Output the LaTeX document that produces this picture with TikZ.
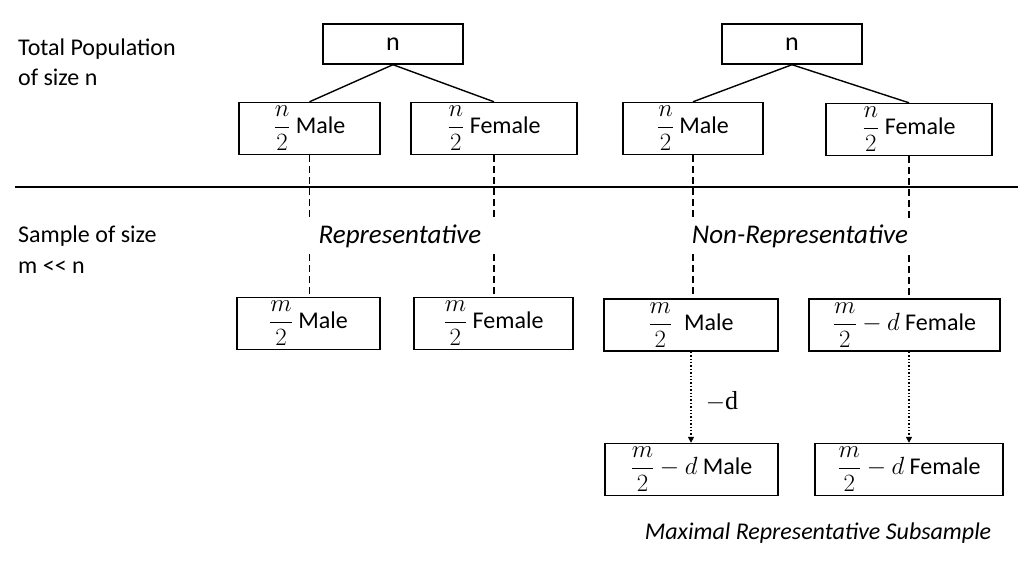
\documentclass[tikz,border=0pt]{standalone}
\usepackage{amsmath}
\usepackage{fontspec}
\setmainfont{Carlito}
\newfontfamily\serifd{Liberation Serif}
\usetikzlibrary{arrows.meta}

\begin{document}
\begin{tikzpicture}[x=1pt,y=-1pt]
      \tikzstyle{every node}+=[inner sep=0pt, font=\fontsize{24}{28}\selectfont]
      \tikzstyle{popbox}=[draw, line width=1.4pt, minimum height=52pt]
      \tikzstyle{sidetext}=[anchor=base west]
      \tikzstyle{tag}=[fill=white, font=\fontsize{27}{30}\selectfont\itshape, minimum height=30pt]
      \tikzstyle{link}=[line width=1.4pt]
      \tikzstyle{split}=[line width=1.4pt, dashed, dash pattern=on 7pt off 4pt]
      \tikzstyle{cut}=[line width=1.4pt, dotted, -{Triangle[length=6pt,width=6pt]}]
      \useasboundingbox (0,0) rectangle (1024,569);
      % side labels
      \node[sidetext] (pop1) at (18,56) {Total Population};
      \node[sidetext] (pop2) at (18,86) {of size n};
      \node[sidetext] (smp1) at (18,242) {Sample of size};
      \node[sidetext] (smp2) at (18,273) {m {<}{<} n};
      \draw [link] (15,187) -- (1018,187);
      % population, left
      \node[popbox, minimum width=140pt, minimum height=40pt, font=\fontsize{26}{30}\selectfont] (nL) at (393,44) {n};
      \node[popbox, minimum width=141pt] (pmL) at (309.5,128.5) {$\dfrac{n}{2}$ Male};
      \node[popbox, minimum width=166pt] (pfL) at (494,128.5) {$\dfrac{n}{2}$ Female};
      \draw [link] (nL.south) -- (pmL.north);
      \draw [link] (nL.south) -- (pfL.north);
      % population, right
      \node[popbox, minimum width=140pt, minimum height=40pt, font=\fontsize{26}{30}\selectfont] (nR) at (792,44) {n};
      \node[popbox, minimum width=140pt] (pmR) at (693,128.5) {$\dfrac{n}{2}$ Male};
      \node[popbox, minimum width=166pt] (pfR) at (909,129.5) {$\dfrac{n}{2}$ Female};
      \draw [link] (nR.south) -- (pmR.north);
      \draw [link] (nR.south) -- (pfR.north);
      % samples
      \node[popbox, minimum width=143pt] (smL) at (308.5,323.5) {$\dfrac{m}{2}$ Male};
      \node[popbox, minimum width=159pt] (sfL) at (493.5,323.5) {$\dfrac{m}{2}$ Female};
      \node[popbox, minimum width=174pt] (smR) at (691,325) {$\dfrac{m}{2}$\enspace Male};
      \node[popbox, minimum width=191pt] (sfR) at (904.5,325) {$\dfrac{m}{2} - d$ Female};
      \draw [split] (pmL.south) -- (pmL.south |- smL.north);
      \draw [split] (pfL.south) -- (pfL.south |- sfL.north);
      \draw [split] (pmR.south) -- (pmR.south |- smR.north);
      \draw [split] (pfR.south) -- (pfR.south |- sfR.north);
      \node[tag, minimum width=200pt] (rep) at (400,236) {Representative};
      \node[tag, minimum width=232pt] (nonrep) at (800,236) {Non-Representative};
      % subsample
      \node[popbox, minimum width=173pt] (dmR) at (691.5,469.5) {$\dfrac{m}{2} - d$ Male};
      \node[popbox, minimum width=188pt] (dfR) at (909,469.5) {$\dfrac{m}{2} - d$ Female};
      \draw [cut] (smR.south) -- (smR.south |- dmR.north);
      \draw [cut] (sfR.south -| dfR.north) -- (dfR.north);
      \node[font=\fontsize{26}{30}\selectfont] (minusd) at (722,402) {$-${\serifd d}};
      \node[font=\fontsize{24}{28}\selectfont\itshape] (maxrep) at (818,533) {Maximal Representative Subsample};
\end{tikzpicture}
\end{document}
